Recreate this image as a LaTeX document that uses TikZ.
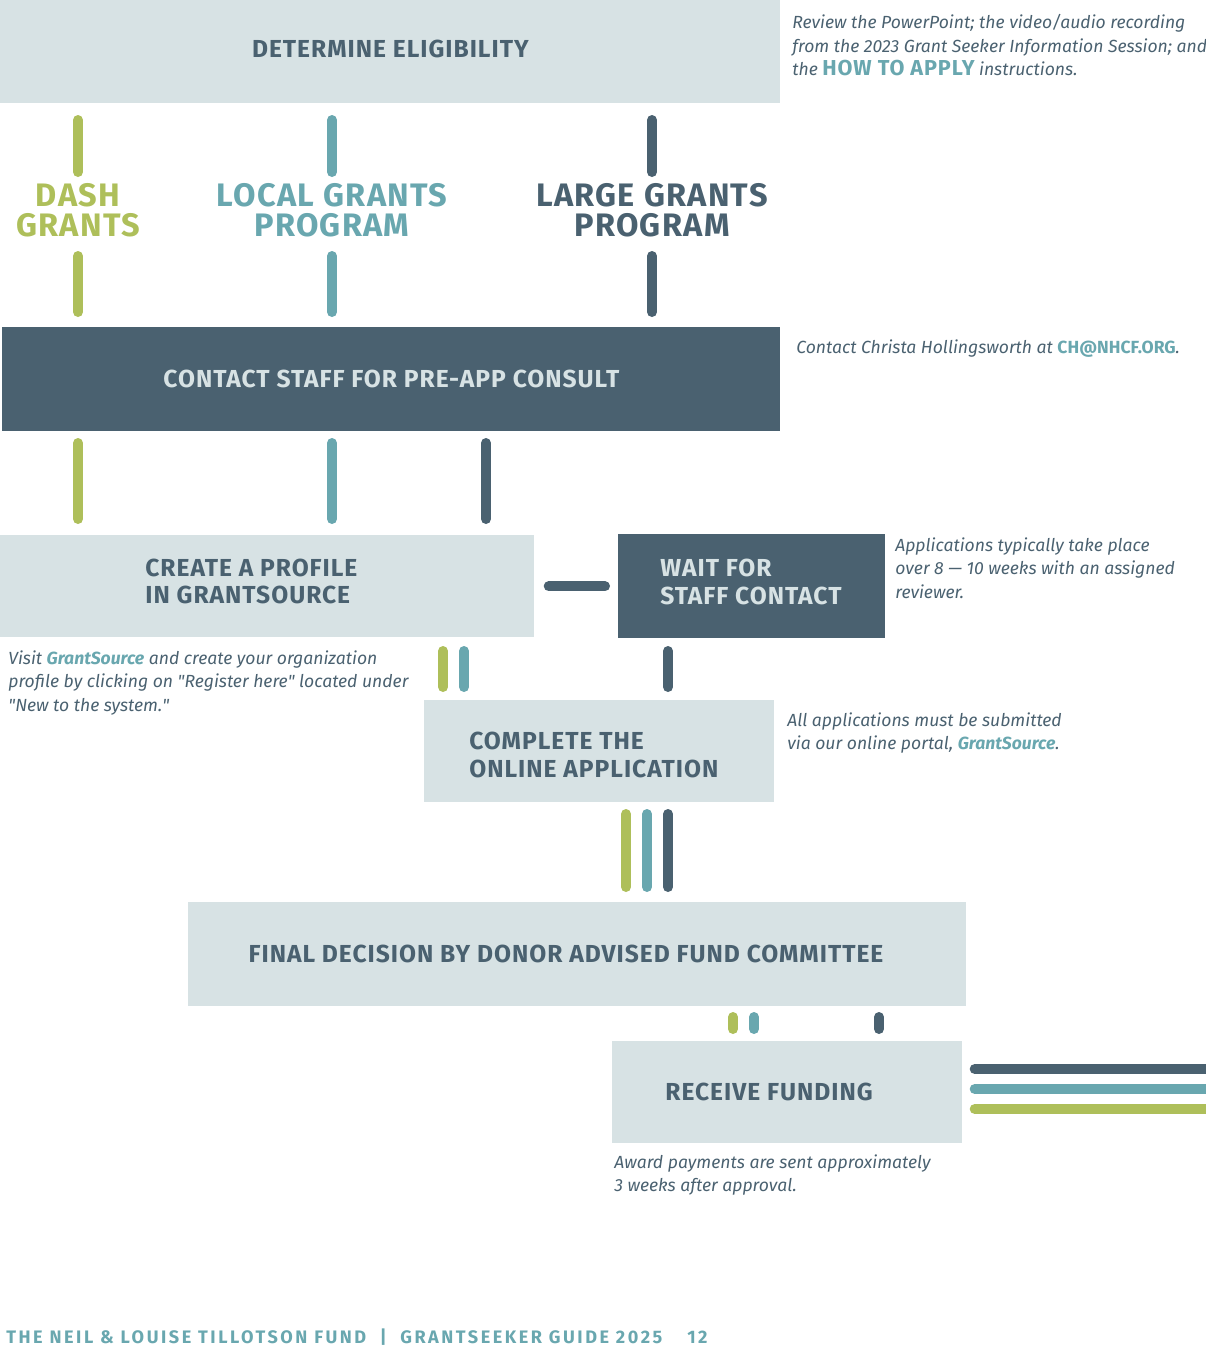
\documentclass[tikz,border=0pt]{standalone}
\usepackage{fontspec}
\setmainfont{Fira Sans}
\newfontfamily\headfont{Fira Sans}[LetterSpace=4]
\newfontfamily\footfont{Fira Sans}[LetterSpace=14]
\usetikzlibrary{positioning,calc}
\definecolor{pale}{HTML}{D7E2E4}
\definecolor{slate}{HTML}{4A6170}
\definecolor{dashc}{HTML}{AEBF5A}
\definecolor{localc}{HTML}{69A7AF}
\definecolor{largec}{HTML}{4A6170}
\newcommand{\pu}{0.02cm}
\newcommand{\gsrc}{{\color{localc}\bfseries GrantSource}}
\tikzset{
  lbox/.style={fill=pale, anchor=north west, inner sep=0pt, text=slate,
    font=\headfont\bfseries\fontsize{14}{15.5}\selectfont},
  dbox/.style={lbox, fill=slate, text=pale},
  head/.style={inner sep=0pt, align=left, anchor=west,
    font=\headfont\bfseries\fontsize{14}{15.5}\selectfont},
  grp/.style={inner sep=0pt, align=center, font=\headfont\bfseries\fontsize{18.5}{17.2}\selectfont},
  note/.style={inner sep=0pt, align=left, anchor=west, text=slate,
    font=\itshape\fontsize{10}{13.4}\selectfont},
  bar/.style={line width=0.2cm, line cap=round},
}

\begin{document}
\begin{tikzpicture}[x=\pu, y=-\pu]
  \useasboundingbox (0,0) rectangle (1205,1347);

  % step boxes
  \node[lbox, minimum width=780*\pu, minimum height=103*\pu] (elig) at (0,0) {};
  \node[dbox, minimum width=778*\pu, minimum height=104*\pu] (consult) at (2,327) {CONTACT STAFF FOR PRE-APP CONSULT};
  \node[lbox, minimum width=534*\pu, minimum height=102*\pu] (profile) at (0,535) {};
  \node[dbox, minimum width=267*\pu, minimum height=104*\pu] (wait) at (618,534) {};
  \node[lbox, minimum width=350*\pu, minimum height=102*\pu] (complete) at (424,700) {};
  \node[lbox, minimum width=778*\pu, minimum height=104*\pu] (final) at (188,902) {};
  \node[lbox, minimum width=350*\pu, minimum height=102*\pu] (fund) at (612,1041) {};

  \node[head, text=slate, anchor=center] (elig-t) at ([yshift=3*\pu]elig.center) {DETERMINE ELIGIBILITY};
  \node[head, text=slate] (profile-t) at ([xshift=145*\pu, yshift=5*\pu]profile.west) {CREATE A PROFILE\\IN GRANTSOURCE};
  \node[head, text=pale] (wait-t) at ([xshift=42*\pu, yshift=4.5*\pu]wait.west) {WAIT FOR\\STAFF CONTACT};
  \node[head, text=slate] (complete-t) at ([xshift=45*\pu, yshift=-3.5*\pu]complete.west) {COMPLETE THE\\ONLINE APPLICATION};
  \node[head, text=slate, anchor=center] (final-t) at (566,954) {FINAL DECISION BY DONOR ADVISED FUND COMMITTEE};
  \node[head, text=slate] (fund-t) at ([xshift=53*\pu]fund.west) {RECEIVE FUNDING};

  % programs
  \node[grp, text=dashc] (dash) at (78,210) {DASH\\GRANTS};
  \node[grp, text=localc] (local) at (332,210) {LOCAL GRANTS\\PROGRAM};
  \node[grp, text=largec] (large) at (652,210) {LARGE GRANTS\\PROGRAM};

  % notes
  \node[note] (n-elig) at (792,45.5) {Review the PowerPoint; the video/audio recording\\from the 2023 Grant Seeker Information Session; and\\the {\color{localc}\upshape\headfont\bfseries\fontsize{12.3}{13.4}\selectfont HOW TO APPLY} instructions.};
  \node[note] (n-consult) at (796,349) {Contact Christa Hollingsworth at {\color{localc}\upshape\bfseries CH@NHCF.ORG}.};
  \node[note] (n-wait) at (895,568) {Applications typically take place\\over 8 — 10 weeks with an assigned\\reviewer.};
  \node[note] (n-profile) at (8,683) {Visit \gsrc{} and create your organization\\profile by clicking on \textquotedbl Register here\textquotedbl{} located under\\\textquotedbl New to the system.\textquotedbl};
  \node[note] (n-complete) at (787,733) {All applications must be submitted\\via our online portal, \gsrc.};
  \node[note] (n-fund) at (614,1175) {Award payments are sent approximately\\3 weeks after approval.};

  % track stubs
  \foreach \x/\ya/\yb/\c in {78/120/172/dashc, 332/120/172/localc, 652/120/172/largec,
      78/256/312/dashc, 332/256/312/localc, 652/256/312/largec,
      78/443/519/dashc, 332/443/519/localc, 486/443/519/largec,
      443/651/687/dashc, 464/651/687/localc, 668/651/687/largec,
      626/814/887/dashc, 647/814/887/localc, 668/814/887/largec,
      733/1017/1029/dashc, 754/1017/1029/localc, 879/1017/1029/largec}{
    \draw[bar, \c] (\x,\ya) -- (\x,\yb);
  }
  \draw[bar, largec, shorten <=0.28cm, shorten >=0.26cm] (profile.east |- wait.west) -- (wait.west);

  % outgoing tracks
  \coordinate (out) at (1212,1089);
  \foreach \dy/\c in {-20/largec, 0/localc, 20/dashc}{
    \draw[bar, \c] ([xshift=12*\pu, yshift=-\dy*\pu]fund.east |- out) -- ([yshift=-\dy*\pu]out);
  }

  \node[inner sep=0pt, anchor=west, text=localc, font=\footfont\bfseries\fontsize{10.3}{12}\selectfont] (foot) at (6,1337)
    {THE NEIL \& LOUISE TILLOTSON FUND \ | \ GRANTSEEKER GUIDE 2025 \quad 12};
\end{tikzpicture}
\end{document}
